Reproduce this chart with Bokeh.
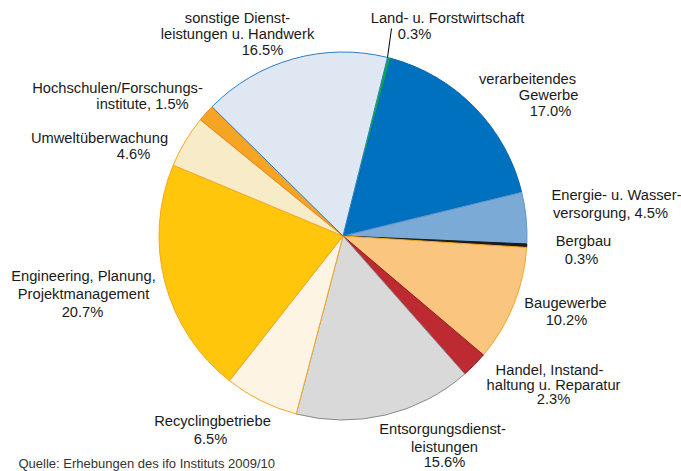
import math
from bokeh.plotting import figure
from bokeh.models import Range1d, ColumnDataSource
from bokeh.embed import file_html
from bokeh.resources import INLINE
from bokeh.core.properties import value

# ---- data ----
categories = [
    "Land- u. Forstwirtschaft", "verarbeitendes Gewerbe", "Energie- u. Wasserversorgung",
    "Bergbau", "Baugewerbe", "Handel, Instandhaltung u. Reparatur",
    "Entsorgungsdienstleistungen", "Recyclingbetriebe", "Engineering, Planung, Projektmanagement",
    "Umweltüberwachung", "Hochschulen/Forschungsinstitute", "sonstige Dienstleistungen u. Handwerk",
]
shares = [0.3, 17.0, 4.5, 0.3, 10.2, 2.3, 15.6, 6.5, 20.7, 4.6, 1.5, 16.5]
label_lines = [
    ["Land- u. Forstwirtschaft"],
    ["verarbeitendes", "Gewerbe"],
    ["Energie- u. Wasser-", "versorgung,"],
    ["Bergbau"],
    ["Baugewerbe"],
    ["Handel, Instand-", "haltung u. Reparatur"],
    ["Entsorgungsdienst-", "leistungen"],
    ["Recyclingbetriebe"],
    ["Engineering, Planung,", "Projektmanagement"],
    ["Umweltüberwachung"],
    ["Hochschulen/Forschungs-", "institute,"],
    ["sonstige Dienst-", "leistungen u. Handwerk"],
]
pct_inline = [False, False, True, False, False, False, False, False, False, False, True, False]
source_note = "Quelle: Erhebungen des ifo Instituts 2009/10"

# ---- style ----
fills = ["#00a651", "#0071bf", "#7baad6", "#1a1a1a", "#f9c57f", "#be2a32",
         "#d9d9d9", "#fef4e4", "#ffc60b", "#f8ecc8", "#f6a424", "#dfe7f3"]
lines = ["#00a651", "#0066b3", "#5f95cc", "#1a1a1a", "#f5a623", "#8c1c22",
         "#8a8a8a", "#f5a623", "#f5a623", "#f5a623", "#e8861a", "#2a7dc8"]
# label line positions (image px: center x, middle y)
label_pos = [
    [(447, 17), (414, 33)],
    [(527, 78), (548, 94), (550, 110)],
    [(616, 194), (610, 212)],
    [(583, 240), (581, 258)],
    [(565, 302), (566, 319)],
    [(549, 369), (553, 384), (553, 398)],
    [(442, 428), (444, 446), (444, 461)],
    [(212, 420), (210, 438)],
    [(83, 275), (83, 293), (82, 311)],
    [(99, 137), (133, 153)],
    [(117, 87), (142, 103)],
    [(237, 17), (237, 33), (262, 49)],
]

W, H = 681, 471
def dx(X): return X
def dy(Y): return H - Y

cx, cy, r = dx(342.5), dy(235.5), 184
start_deg = 76.0  # math angle of first slice start

starts, ends = [], []
cum = 0.0
for s in shares:
    starts.append(math.radians(start_deg - cum * 3.6))
    cum += s
    ends.append(math.radians(start_deg - cum * 3.6))

p = figure(width=W, height=H, output_backend="svg", toolbar_location=None,
           x_range=Range1d(0, W), y_range=Range1d(0, H), min_border=0)
p.axis.visible = False
p.grid.visible = False
p.outline_line_color = None
p.background_fill_color = "white"

src = ColumnDataSource(dict(x=[cx] * len(shares), y=[cy] * len(shares), s=starts, e=ends,
                            fill=fills, line=lines, cat=categories))
p.wedge(x="x", y="y", radius=r, start_angle="s", end_angle="e", direction="clock",
        fill_color="fill", line_color="line", line_width=1, source=src)

# leader line for Land- u. Forstwirtschaft
p.line(x=[dx(391), dx(387)], y=[dy(28), dy(57)], line_color="black", line_width=1)

tx, ty, tt = [], [], []
for i, lns in enumerate(label_lines):
    pct = f"{shares[i]:.1f}%"
    texts = list(lns)
    if pct_inline[i]:
        texts[-1] = texts[-1] + " " + pct
    else:
        texts.append(pct)
    for t, (X, Y) in zip(texts, label_pos[i]):
        tx.append(dx(X)); ty.append(dy(Y)); tt.append(t)

p.text(x=tx, y=ty, text=tt, text_align="center", text_baseline="middle",
       text_font=value("Liberation Sans"), text_font_size="14.7px", text_color="#1a1a1a")

p.text(x=[dx(18)], y=[dy(455)], text=[source_note], text_align="left", text_baseline="top",
       text_font=value("Liberation Sans"), text_font_size="13px", text_color="#333333")

open("out.html", "w").write(file_html(p, INLINE))
